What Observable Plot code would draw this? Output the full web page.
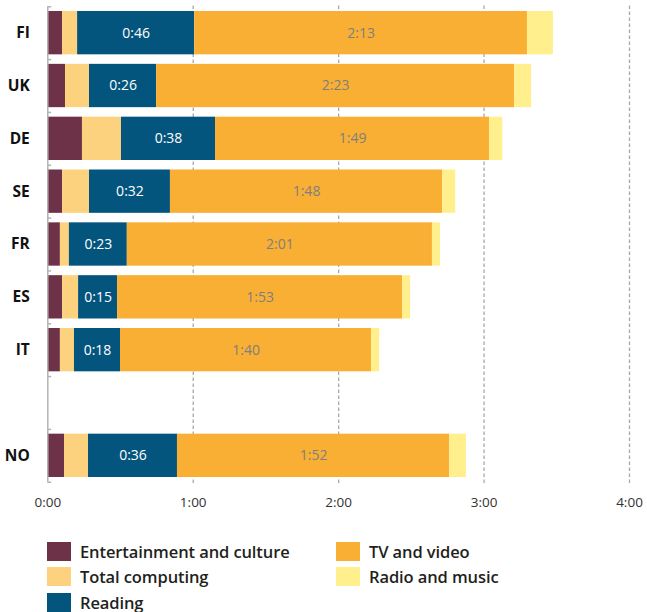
<!DOCTYPE html>
<html><head><meta charset="utf-8">
<script src="https://cdn.jsdelivr.net/npm/d3@7"></script>
<script src="https://cdn.jsdelivr.net/npm/@observablehq/plot@0.6"></script>
<style>
body{margin:0;background:#fff;font-family:"Open Sans",sans-serif;}
#legend{display:grid;grid-auto-flow:column;grid-template-rows:repeat(3,20px);grid-template-columns:289px auto;row-gap:5.5px;padding-left:47px;margin-top:11px;}
.item{display:flex;align-items:center;height:20px;font-size:16.5px;font-weight:600;color:#231f20;white-space:nowrap;letter-spacing:-0.1px;}
.sw{width:24px;height:19px;margin-right:9px;flex:none;}
</style></head><body>
<div id="chart"></div>
<div id="legend"></div>
<script>
const countries = ["FI","UK","DE","SE","FR","ES","IT","NO"];
const slots = ["FI","UK","DE","SE","FR","ES","IT","","NO"];
const categories = ["Entertainment and culture","Total computing","Reading","TV and video","Radio and music"];
const colors = ["#6e3248","#fdd27e","#03557e","#f9af33","#fff08d"];
// minutes per day
const entertainment = [6.1, 7.3, 14.3, 6.1, 5.2, 6.1, 5.2, 6.9];
const computing     = [6.2, 9.9, 16.1, 11.1, 3.7, 6.6, 5.8, 9.9];
const reading       = [48.3, 27.7, 38.8, 33.4, 23.9, 16.1, 19.0, 36.7];
const tv            = [137.3, 147.7, 113.1, 112.3, 125.9, 117.6, 103.6, 112.3];
const radio         = [10.7, 7.0, 5.4, 5.4, 3.3, 3.3, 3.3, 6.9];
const readingLabels = ["0:46","0:26","0:38","0:32","0:23","0:15","0:18","0:36"];
const tvLabels      = ["2:13","2:23","1:49","1:48","2:01","1:53","1:40","1:52"];
const xTicks = [0, 60, 120, 180, 240];

const series = [entertainment, computing, reading, tv, radio];
const data = [];
countries.forEach((c, i) => {
  categories.forEach((cat, j) => {
    data.push({country: c, category: cat, value: series[j][i],
      label: j === 2 ? readingLabels[i] : j === 3 ? tvLabels[i] : ""});
  });
});

const W = 647, H = 530, mT = 1.5, mB = 43.5, pad = 0.18;
const step = (H - mT - mB) / (slots.length + pad);
const axisColor = "#b3b3b3";

const chart = Plot.plot({
  width: W, height: H,
  marginLeft: 47.3, marginRight: 18, marginTop: mT, marginBottom: mB,
  style: {fontFamily: "'Open Sans', sans-serif", background: "#fff"},
  x: {domain: [0, 240], label: null},
  y: {domain: slots, padding: pad, round: false, label: null},
  color: {domain: categories, range: colors},
  marks: [
    Plot.ruleX(xTicks.slice(1), {stroke: "#a8a8a8", strokeWidth: 1.3, strokeDasharray: "3.5,2.5", insetTop: 4, insetBottom: 2.5}),
    Plot.barX(data, Plot.stackX({x: "value", y: "country", fill: "category", order: categories})),
    Plot.text(data, Plot.stackX({x: "value", y: "country", z: "category", order: categories,
      text: d => d.category === "Reading" ? d.label : "", fill: "white", fontSize: 14})),
    Plot.text(data, Plot.stackX({x: "value", y: "country", z: "category", order: categories,
      text: d => d.category === "TV and video" ? d.label : "", fill: "#7f7f7f", fontSize: 14})),
    Plot.ruleX([0], {stroke: axisColor, strokeWidth: 1.5, insetTop: step * pad / 2, insetBottom: step * pad / 2}),
    Plot.ruleY(slots, {y: d => d, x1: 0, x2: 1.6, dy: -step / 2, stroke: axisColor, strokeWidth: 1.5}),
    Plot.ruleY(["NO"], {y: d => d, x1: 0, x2: 1.6, dy: step / 2, stroke: axisColor, strokeWidth: 1.5}),
    Plot.axisX({ticks: xTicks, tickSize: 0, tickPadding: 10, fontSize: 13.5, fill: "#333", label: null,
      tickFormat: d => `${Math.floor(d / 60)}:${String(d % 60).padStart(2, "0")}`}),
    Plot.axisY({tickSize: 0, tickPadding: 18, fontSize: 15.5, fontWeight: 700, fill: "#111", label: null,
      tickFormat: d => d})
  ]
});
document.getElementById("chart").appendChild(chart);

const legend = document.getElementById("legend");
categories.forEach((cat, j) => {
  const it = document.createElement("div");
  it.className = "item";
  const sw = document.createElement("span");
  sw.className = "sw";
  sw.style.background = colors[j];
  it.appendChild(sw);
  it.appendChild(document.createTextNode(cat));
  legend.appendChild(it);
});
</script>
</body></html>
